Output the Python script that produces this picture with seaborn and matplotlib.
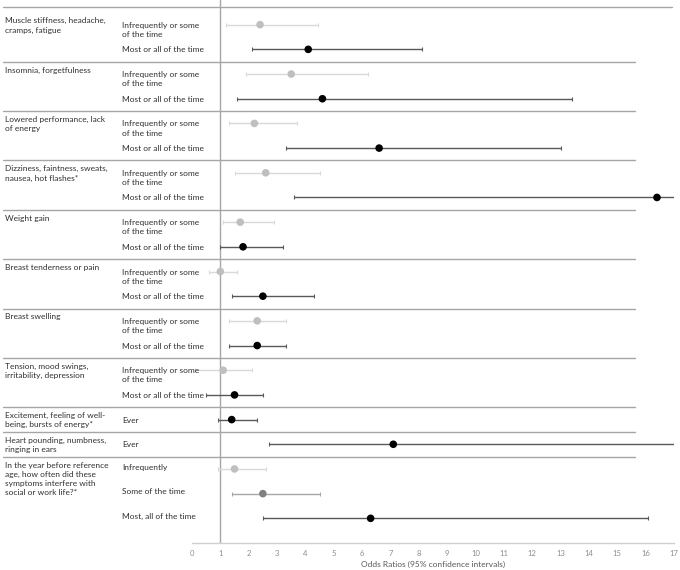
import numpy as np
import pandas as pd
import matplotlib
matplotlib.use("Agg")
import matplotlib.pyplot as plt
import seaborn as sns
from matplotlib.transforms import blended_transform_factory
from matplotlib.lines import Line2D

# ---------------- data ----------------
group_labels = [
    "Muscle stiffness, headache,\ncramps, fatigue",
    "Insomnia, forgetfulness",
    "Lowered performance, lack\nof energy",
    "Dizziness, faintness, sweats,\nnausea, hot flashes*",
    "Weight gain",
    "Breast tenderness or pain",
    "Breast swelling",
    "Tension, mood swings,\nirritability, depression",
    "Excitement, feeling of well-\nbeing, bursts of energy*",
    "Heart pounding, numbness,\nringing in ears",
    "In the year before reference\nage, how often did these\nsymptoms interfere with\nsocial or work life?*",
]
group_sizes = [2, 2, 2, 2, 2, 2, 2, 2, 1, 1, 3]

sub_labels = [
    "Infrequently or some\nof the time", "Most or all of the time",
    "Infrequently or some\nof the time", "Most or all of the time",
    "Infrequently or some\nof the time", "Most or all of the time",
    "Infrequently or some\nof the time", "Most or all of the time",
    "Infrequently or some\nof the time", "Most or all of the time",
    "Infrequently or some\nof the time", "Most or all of the time",
    "Infrequently or some\nof the time", "Most or all of the time",
    "Infrequently or some\nof the time", "Most or all of the time",
    "Ever",
    "Ever",
    "Infrequently", "Some of the time", "Most, all of the time",
]
level = [
    "low", "high", "low", "high", "low", "high", "low", "high",
    "low", "high", "low", "high", "low", "high", "low", "high",
    "high", "high",
    "low", "mid", "high",
]
odds_ratio = [2.4, 4.1, 3.5, 4.6, 2.2, 6.6, 2.6, 16.4, 1.7, 1.8, 1.0, 2.5,
              2.3, 2.3, 1.1, 1.5, 1.4, 7.1, 1.5, 2.5, 6.3]
ci_low = [1.2, 2.1, 1.9, 1.6, 1.3, 3.3, 1.5, 3.6, 1.1, 1.0, 0.6, 1.4,
          1.3, 1.3, 0.1, 0.5, 0.9, 2.7, 0.9, 1.4, 2.5]
ci_high = [4.45, 8.1, 6.2, 13.4, 3.7, 13.0, 4.5, 18.0, 2.9, 3.2, 1.6, 4.3,
           3.3, 3.3, 2.1, 2.5, 2.3, 18.0, 2.6, 4.5, 16.1]
x_ticks = list(range(0, 18))
x_label = "Odds Ratios (95% confidence intervals)"

# ---------------- styling ----------------
sns.set_theme(style="white")
plt.rcParams["font.family"] = ["Lato", "DejaVu Sans"]

point_colors = {"low": "#bfbfbf", "mid": "#808080", "high": "#000000"}
line_colors = {"low": "#d9d9d9", "mid": "#a6a6a6", "high": "#595959"}

df = pd.DataFrame({
    "label": sub_labels,
    "level": level,
    "odds": odds_ratio,
    "lo": ci_low,
    "hi": ci_high,
})
df["row"] = np.arange(len(df))

fig = plt.figure(figsize=(6.8, 5.7), dpi=100)
ax = fig.add_axes([192 / 680, 1 - 543 / 570, (674 - 192) / 680, 543 / 570])

# confidence intervals
for lv, sub in df.groupby("level"):
    ax.errorbar(sub["odds"], sub["row"],
                xerr=[sub["odds"] - sub["lo"], sub["hi"] - sub["odds"]],
                fmt="none", ecolor=line_colors[lv], elinewidth=1.0,
                capsize=1.6, capthick=0.8, zorder=2)

# points
sns.scatterplot(data=df, x="odds", y="row", hue="level", palette=point_colors,
                s=30, linewidth=0, legend=False, ax=ax, zorder=3)

ax.axvline(1, color="#a6a6a6", lw=1.0, zorder=1)

ax.set_xlim(0, 17)
ax.set_ylim(21, -1)
ax.set_xticks(x_ticks)
ax.set_xticklabels([str(t) for t in x_ticks], fontsize=5.5, color="#8c8c8c")
ax.tick_params(axis="x", length=0, pad=5)
ax.set_yticks([])
ax.set_ylabel("")
ax.set_xlabel(x_label, fontsize=6, color="#595959", labelpad=3)
for s in ["top", "right", "left"]:
    ax.spines[s].set_visible(False)
ax.spines["bottom"].set_color("#d0d0d0")
ax.spines["bottom"].set_linewidth(1.0)

# text labels and separators
trans = blended_transform_factory(fig.transFigure, ax.transData)
txt_col = "#303030"
start = 0
seps = [-0.716]
for g, (gl, n) in enumerate(zip(group_labels, group_sizes)):
    fig.text(5 / 680, start - 0.3, gl, transform=trans, fontsize=6,
             color=txt_col, va="top", ha="left", linespacing=1.35)
    for r in range(start, start + n):
        yoff = -0.12 if n <= 2 else -0.22
        fig.text(122 / 680, r + yoff, sub_labels[r], transform=trans,
                 fontsize=6, color=txt_col, va="top", ha="left",
                 linespacing=1.35)
    start += n
    if g < len(group_labels) - 1:
        seps.append(start - 0.5)

for i, yv in enumerate(seps):
    x1 = 672 / 680 if i == 0 else 635 / 680
    fig.add_artist(Line2D([3 / 680, x1], [yv, yv], transform=trans,
                          color="#a6a6a6", lw=1.0, clip_on=False))

fig.savefig("out.png", dpi=100)
